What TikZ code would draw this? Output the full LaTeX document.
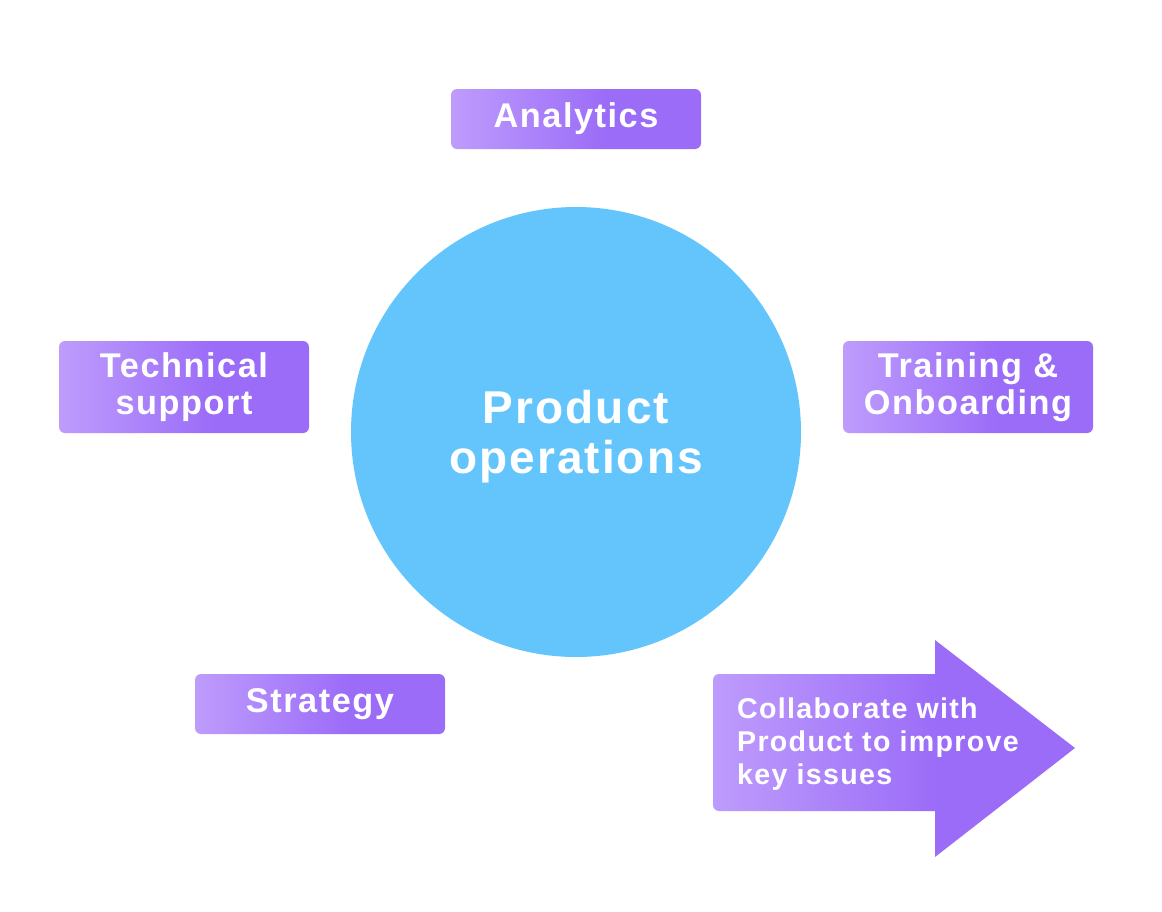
\documentclass[tikz,border=0pt]{standalone}
\usepackage{fontspec}
\setmainfont{Liberation Sans}[LetterSpace=4.5]
\definecolor{plight}{HTML}{BE9CFC}
\definecolor{pdark}{HTML}{9B6CF8}
\definecolor{cblue}{HTML}{63C5FB}
\pgfdeclarehorizontalshading{pgrad}{100bp}{color(0bp)=(plight); color(25bp)=(plight); color(56bp)=(pdark); color(100bp)=(pdark)}
\tikzset{
  pbox/.style={shading=pgrad, rounded corners=6pt, minimum width=250pt, inner sep=0pt,
    text=white, align=center, font=\bfseries\fontsize{34.3}{37}\selectfont},
  onebox/.style={pbox, minimum height=60pt},
  twobox/.style={pbox, minimum height=92pt},
}
\begin{document}
\begin{tikzpicture}[x=1pt,y=-1pt]
\useasboundingbox[fill=white] (0,0) rectangle (1162,911);
\node[circle, fill=cblue, minimum size=450pt, inner sep=0pt] (po) at (576,432) {};
\node[text=white, align=center, inner sep=0pt,
  font=\bfseries\fontsize{46}{50}\selectfont] (pot) at (576,437) {Product\\operations};
\node[onebox] (an) at (576,119) {Analytics};
\node[twobox] (ts) at (184,387) {Technical\\support};
\node[twobox] (tr) at (968,387) {Training \&\\Onboarding};
\node[onebox] (st) at (320,704) {Strategy};
\shade[shading=pgrad] (935,674) [rounded corners=6pt] -- (713,674) -- (713,811) [sharp corners] -- (935,811) -- (935,857) -- (1075,748) -- (935,640) -- cycle;
\node[anchor=west, text=white, align=left, inner sep=0pt,
  font=\bfseries\fontsize{28.6}{33}\selectfont] (co) at (737,744) {Collaborate with\\Product to improve\\key issues};
\end{tikzpicture}
\end{document}
